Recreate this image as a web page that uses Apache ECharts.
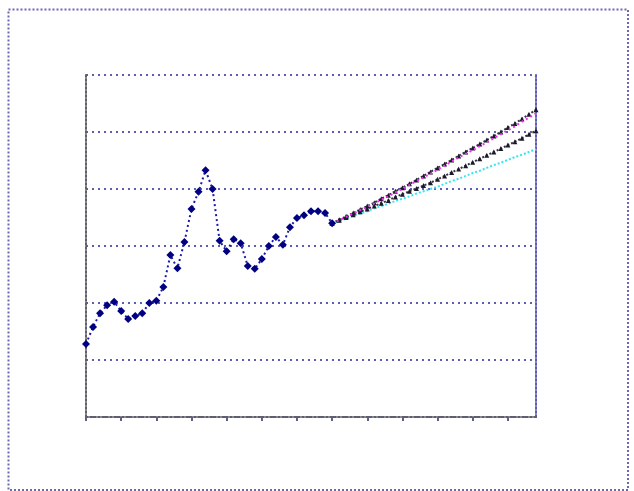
<!DOCTYPE html>
<html>
<head>
<meta charset="utf-8">
<script src="https://cdn.jsdelivr.net/npm/echarts@6/dist/echarts.min.js"></script>
<style>
html,body{margin:0;padding:0;background:#fff;}
#chart{width:634px;height:491px;}
</style>
</head>
<body>
<div id="chart"></div>
<script>
// 65 periods on the category axis
var categories = Array.from({length: 65}, function (_, i) { return String(i + 1); });

// historical observations (periods 1..36)
var historical = [1.28, 1.58, 1.82, 1.96, 2.02, 1.86, 1.72, 1.77, 1.82, 2.00,
  2.04, 2.28, 2.84, 2.61, 3.07, 3.65, 3.95, 4.33, 4.00, 3.09,
  2.91, 3.12, 3.05, 2.65, 2.60, 2.77, 3.00, 3.16, 3.02, 3.33,
  3.49, 3.54, 3.61, 3.61, 3.58, 3.40];

// forecast paths (periods 36..65)
var forecastHigh = [3.40, 3.46, 3.52, 3.58, 3.64, 3.70, 3.76, 3.83, 3.89, 3.96,
  4.02, 4.09, 4.16, 4.23, 4.30, 4.37, 4.44, 4.51, 4.58, 4.65,
  4.72, 4.79, 4.86, 4.93, 5.00, 5.08, 5.15, 5.23, 5.31, 5.39];
var forecastPink = [3.40, 3.45, 3.51, 3.57, 3.63, 3.69, 3.75, 3.81, 3.87, 3.94,
  4.00, 4.07, 4.14, 4.20, 4.27, 4.34, 4.41, 4.48, 4.55, 4.62,
  4.68, 4.75, 4.82, 4.89, 4.96, 5.03, 5.10, 5.18, 5.25, 5.33];
var forecastMid = [3.40, 3.45, 3.50, 3.55, 3.60, 3.65, 3.70, 3.75, 3.80, 3.86,
  3.91, 3.96, 4.01, 4.06, 4.11, 4.17, 4.23, 4.29, 4.35, 4.41,
  4.47, 4.53, 4.59, 4.65, 4.71, 4.77, 4.83, 4.89, 4.96, 5.02];
var forecastLow = [3.40, 3.44, 3.48, 3.53, 3.57, 3.61, 3.66, 3.70, 3.74, 3.79,
  3.83, 3.87, 3.92, 3.96, 4.00, 4.04, 4.09, 4.14, 4.18, 4.23,
  4.28, 4.32, 4.37, 4.42, 4.46, 4.51, 4.56, 4.60, 4.65, 4.70];

function padFront(arr, total) {
  var out = [];
  for (var i = 0; i < total - arr.length; i++) out.push(null);
  return out.concat(arr);
}
function padBack(arr, total) {
  var out = arr.slice();
  while (out.length < total) out.push(null);
  return out;
}
var N = categories.length;

var chart = echarts.init(document.getElementById('chart'), null, {renderer: 'canvas'});
var dotGrid = {color: '#5d5db4', width: 2, type: [2, 4]};
var option = {
  animation: false,
  backgroundColor: '#ffffff',
  graphic: [{
    type: 'rect',
    shape: {x: 8.5, y: 9.5, width: 619.5, height: 480.5},
    style: {fill: 'none', stroke: '#6a6aae', lineWidth: 2, lineDash: [2, 2]},
    silent: true
  }],
  grid: {left: 86, top: 75, right: 98, bottom: 74, containLabel: false},
  xAxis: {
    type: 'category',
    data: categories,
    boundaryGap: false,
    axisLine: {show: true, lineStyle: {color: '#5f5f6a', width: 2, type: [2, 2]}},
    axisTick: {show: true, interval: 4, length: 4, lineStyle: {color: '#5f5f88', width: 2}},
    axisLabel: {show: false},
    splitLine: {show: false}
  },
  yAxis: [{
    type: 'value',
    min: 0, max: 6, interval: 1,
    axisLine: {show: true, lineStyle: {color: '#5f5f6a', width: 2, type: [2, 2]}},
    axisTick: {show: false},
    axisLabel: {show: false},
    splitLine: {show: true, lineStyle: dotGrid}
  }, {
    type: 'value',
    position: 'right',
    min: 0, max: 6, interval: 1,
    axisLine: {show: true, lineStyle: {color: '#5d5db4', width: 2, type: [2, 2]}},
    axisTick: {show: false},
    axisLabel: {show: false},
    splitLine: {show: false}
  }],
  series: [
    {
      name: 'Low', type: 'line', data: padFront(forecastLow, N),
      symbol: 'none', lineStyle: {color: '#33e6f0', width: 2, type: [2, 2]}, z: 3
    },
    {
      name: 'Mid', type: 'line', data: padFront(forecastMid, N),
      symbol: 'triangle', symbolSize: 5, showAllSymbol: true, itemStyle: {color: '#1a1a2a'},
      lineStyle: {color: '#333344', width: 2, type: [2, 2]}, z: 4
    },
    {
      name: 'High', type: 'line', data: padFront(forecastHigh, N),
      symbol: 'triangle', symbolSize: 5, showAllSymbol: true, itemStyle: {color: '#1a1a2a'},
      lineStyle: {color: '#333344', width: 2, type: [2, 2]}, z: 5
    },
    {
      name: 'Pink', type: 'line', data: padFront(forecastPink, N),
      symbol: 'none', lineStyle: {color: '#ee33ee', width: 2, type: [2, 3]}, z: 6
    },
    {
      name: 'Historical', type: 'line', data: padBack(historical, N),
      symbol: 'diamond', symbolSize: 8, showAllSymbol: true, itemStyle: {color: '#000080'},
      lineStyle: {color: '#1a1aa8', width: 2, type: [2, 3]}, z: 7
    }
  ]
};
chart.setOption(option);
</script>
</body>
</html>
